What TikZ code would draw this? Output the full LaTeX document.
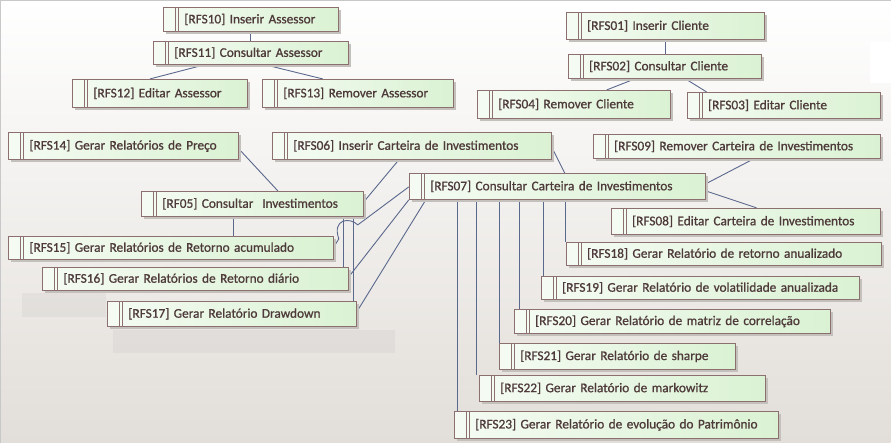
\documentclass[tikz,border=0pt]{standalone}
\usepackage{fontspec}
\setmainfont{Carlito}
\newfontfamily\boxfont{Carlito}[FakeBold=0.9]
\usetikzlibrary{shadows,calc}
\definecolor{bord}{RGB}{140,112,112}
\definecolor{fillL}{RGB}{245,251,243}
\definecolor{fillR}{RGB}{218,242,211}
\definecolor{txt}{RGB}{78,58,58}
\definecolor{shad}{RGB}{196,192,188}
\definecolor{conn}{RGB}{90,104,140}
\definecolor{bgbot}{RGB}{226,222,217}
\definecolor{frame}{RGB}{200,200,200}
\pgfdeclarelayer{bg}
\pgfdeclarelayer{lines}
\pgfsetlayers{bg,lines,main}
\tikzset{
  reqbox/.style={draw=bord, line width=1pt, left color=fillL, right color=fillR,
    inner xsep=0pt, inner ysep=0pt, anchor=north west, align=left,
    font=\boxfont\fontsize{13.3}{15}\selectfont, text=txt,
    general shadow={fill=shad, shadow xshift=3pt, shadow yshift=-3pt},
    path picture={
      \draw[bord, line width=0.9pt] ([xshift=12pt]path picture bounding box.north west) -- ([xshift=12pt]path picture bounding box.south west);
      \draw[bord, line width=0.9pt] ([xshift=15pt]path picture bounding box.north west) -- ([xshift=15pt]path picture bounding box.south west);
    }},
  connline/.style={draw=conn, line width=0.9pt}
}
\newcommand{\req}[6]{%
  \pgfmathsetlengthmacro{\rqw}{(#4-#2)*1pt}%
  \pgfmathsetlengthmacro{\rqh}{(#5-#3)*1pt}%
  \node[reqbox, minimum width=\rqw, minimum height=\rqh, text width=\rqw] (#1) at (#2,#3) {\hspace*{21pt}#6};}
\begin{document}
\begin{tikzpicture}[x=1pt,y=-1pt]
\begin{pgfonlayer}{bg}
  \shade[top color=white, bottom color=bgbot] (0,0) rectangle (891,443);
  \fill[black, opacity=0.035] (22,293) rectangle (106,317);
  \fill[black, opacity=0.035] (113,330) rectangle (395,353);
  \fill[white] (870,42) rectangle (891,83);
  \draw[frame, line width=1pt] (0.5,443) -- (0.5,0.5) -- (891,0.5);
\end{pgfonlayer}
\useasboundingbox (0,0) rectangle (891,443);

\req{RFS10}{163}{7}{338}{31}{[RFS10] Inserir Assessor}
\req{RFS11}{153}{41}{348}{64}{[RFS11] Consultar Assessor}
\req{RFS12}{72}{79}{247}{107}{[RFS12] Editar Assessor}
\req{RFS13}{262}{79}{453}{107}{[RFS13] Remover Assessor}
\req{RFS01}{566}{12}{764}{39}{[RFS01] Inserir Cliente}
\req{RFS02}{568}{54}{761}{78}{[RFS02] Consultar Cliente}
\req{RFS04}{477}{90}{670}{118}{[RFS04] Remover Cliente}
\req{RFS03}{687}{92}{880}{118}{[RFS03] Editar Cliente}
\req{RFS14}{8}{132}{238}{159}{[RFS14] Gerar Relatórios de Preço}
\req{RFS06}{272}{132}{551}{159}{[RFS06] Inserir Carteira de Investimentos}
\req{RFS09}{593}{134}{880}{158}{[RFS09] Remover Carteira de Investimentos}
\req{RFS07}{409}{173}{705}{199}{[RFS07] Consultar Carteira de Investimentos}
\req{RF05}{141}{191}{363}{216}{[RF05] Consultar~ Investimentos}
\req{RFS08}{611}{208}{880}{234}{[RFS08] Editar Carteira de Investimentos}
\req{RFS15}{8}{236}{333}{259}{[RFS15] Gerar Relatórios de Retorno acumulado}
\req{RFS16}{42}{267}{348}{290}{[RFS16] Gerar Relatórios de Retorno diário}
\req{RFS17}{107}{301}{356}{326}{[RFS17] Gerar Relatório Drawdown}
\req{RFS18}{566}{242}{881}{265}{[RFS18] Gerar Relatório de retorno anualizado}
\req{RFS19}{541}{276}{859}{299}{[RFS19] Gerar Relatório de volatilidade anualizada}
\req{RFS20}{514}{309}{830}{333}{[RFS20] Gerar Relatório de matriz de correlação}
\req{RFS21}{499}{343}{735}{369}{[RFS21] Gerar Relatório de sharpe}
\req{RFS22}{479}{375}{765}{401}{[RFS22] Gerar Relatório de markowitz}
\req{RFS23}{454}{411}{778}{438}{[RFS23] Gerar Relatório de evolução do Patrimônio}

\begin{pgfonlayer}{lines}
  \draw[connline] (RFS10.south) -- (RFS10.south |- RFS11.north);
  \draw[connline] ([xshift=51pt]RFS11.south west) -- ([xshift=78pt]RFS12.north west);
  \draw[connline] ([xshift=113pt]RFS11.south west) -- ([xshift=61pt]RFS13.north west);
  \draw[connline] (RFS01.south) -- (RFS01.south |- RFS02.north);
  \draw[connline] ([xshift=67pt]RFS02.south west) -- ([xshift=130pt]RFS04.north west);
  \draw[connline] ([xshift=118pt]RFS02.south west) -- ([xshift=20pt]RFS03.north west);
  \draw[connline] ([yshift=-17pt]RFS14.north east) -- ([xshift=137pt]RF05.north west);
  \draw[connline] ([yshift=-11pt]RF05.north east) -- ([xshift=127pt]RFS06.south west);
  \draw[connline] ([xshift=93pt]RF05.south west) coordinate (c15) -- (c15 |- RFS15.north);
  \draw[connline] ([xshift=203pt]RF05.south west) coordinate (c16) -- (c16 |- RFS16.north);
  \draw[connline] ([xshift=213pt]RF05.south west) coordinate (c17) -- (c17 |- RFS17.north);
  \draw[connline] ([yshift=-15pt]RFS06.north east) -- ([xshift=156pt]RFS07.north west);
  \draw[connline] ([yshift=-14pt]RFS07.north west) -- (358,225)
     .. controls (350,217) and (332,219) .. (339,239) -- ([yshift=-11pt]RFS15.north east);
  \draw[connline] (RFS07.south west) -- ([yshift=-10pt]RFS16.north east);
  \draw[connline] ([xshift=17pt]RFS07.south west) -- ([yshift=-11pt]RFS17.north east);
  \draw[connline] ([yshift=-11pt]RFS07.north east) -- ([xshift=161pt]RFS09.south west);
  \draw[connline] ([yshift=-18pt]RFS07.north east) -- ([xshift=146pt]RFS08.north west);
  \draw[connline] ([xshift=49pt]RFS07.south west) coordinate (v23) -- (v23 |- RFS23.north);
  \draw[connline] ([xshift=68pt]RFS07.south west) coordinate (v22) -- (v22 |- RFS22.north);
  \draw[connline] ([xshift=91pt]RFS07.south west) coordinate (v21) -- (v21 |- RFS21.north);
  \draw[connline] ([xshift=111pt]RFS07.south west) coordinate (v20) -- (v20 |- RFS20.north);
  \draw[connline] ([xshift=135pt]RFS07.south west) coordinate (v19) -- (v19 |- RFS19.north);
  \draw[connline] ([xshift=157pt]RFS07.south west) coordinate (v18) -- (v18 |- RFS18.north);
\end{pgfonlayer}
\end{tikzpicture}
\end{document}
